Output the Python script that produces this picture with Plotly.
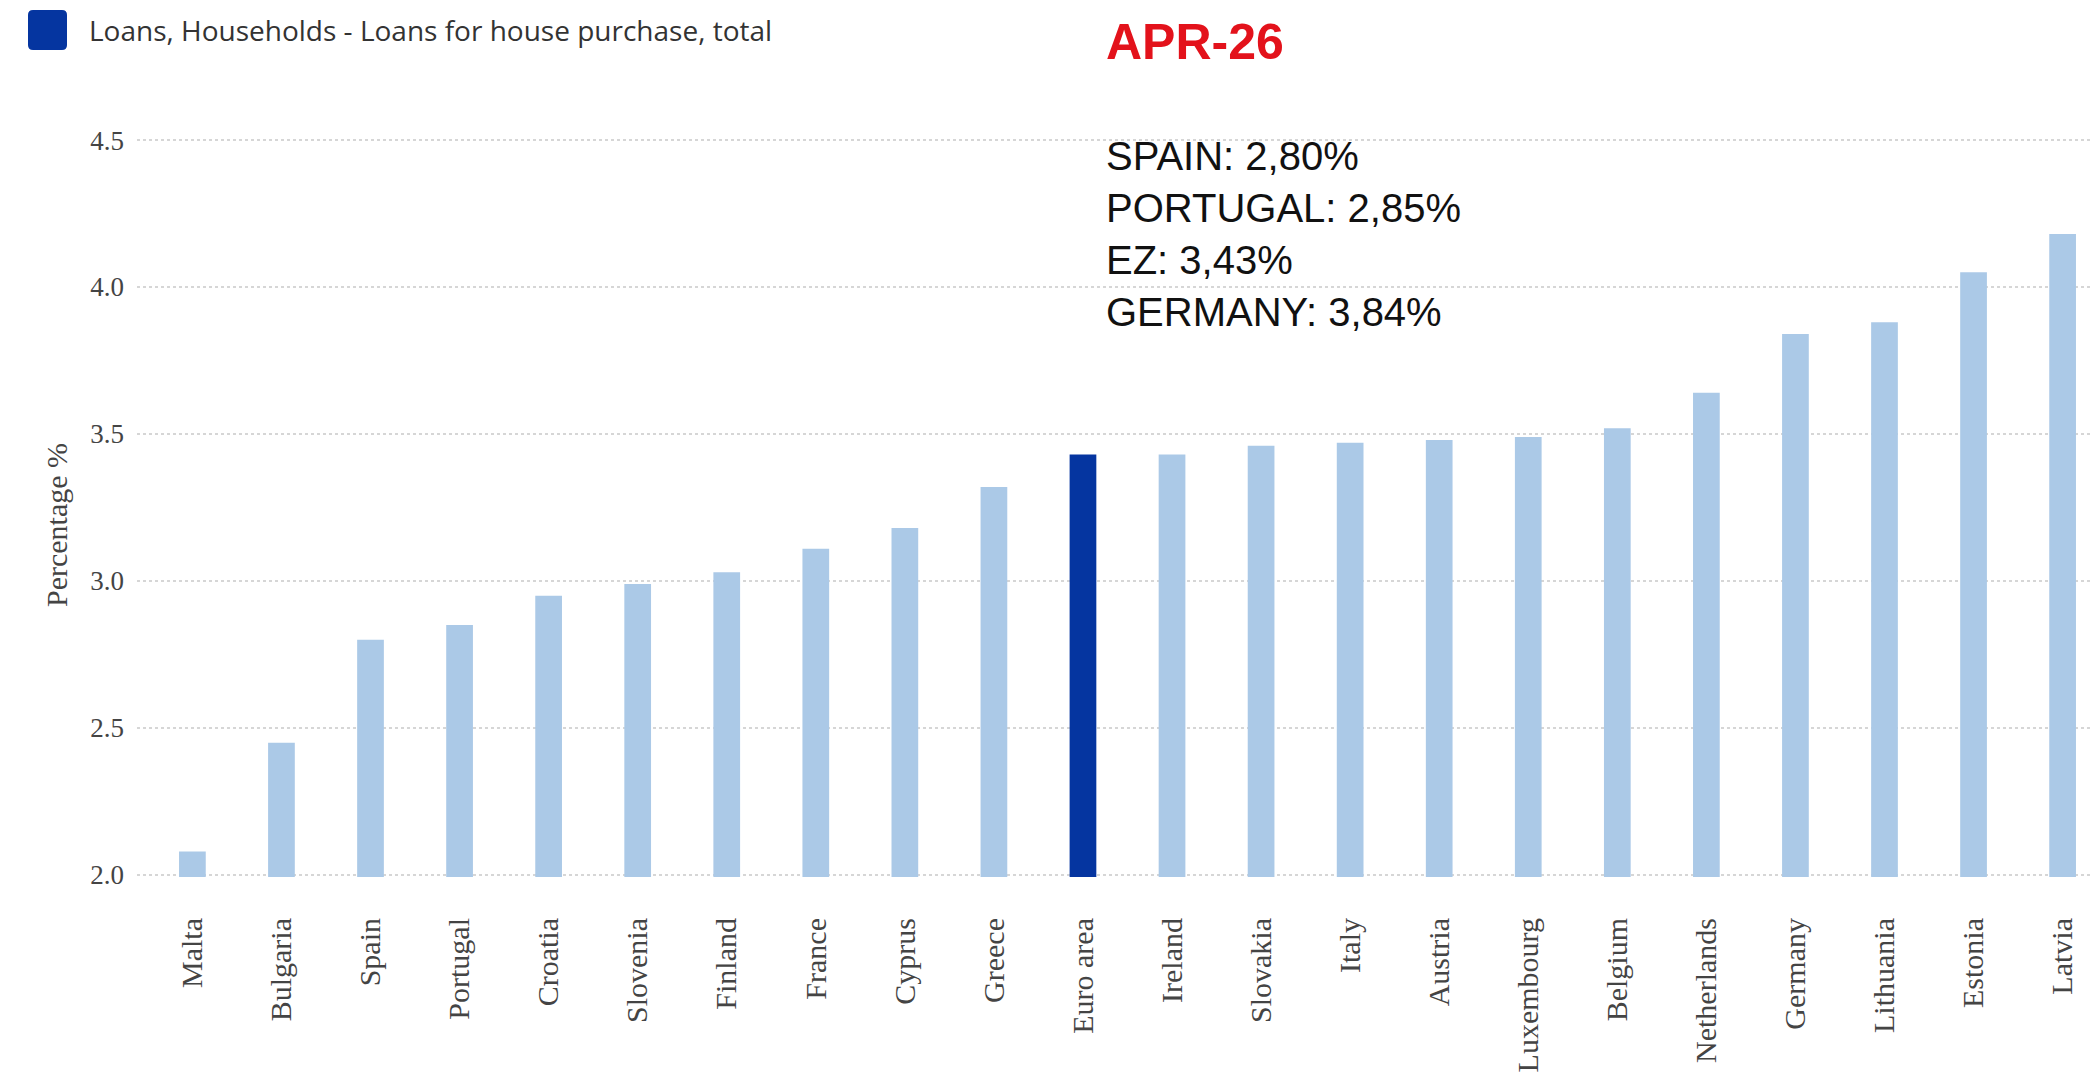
import plotly.graph_objects as go

# Interest rates on new loans to households for house purchase, by country
countries = ["Malta", "Bulgaria", "Spain", "Portugal", "Croatia", "Slovenia",
             "Finland", "France", "Cyprus", "Greece", "Euro area", "Ireland",
             "Slovakia", "Italy", "Austria", "Luxembourg", "Belgium",
             "Netherlands", "Germany", "Lithuania", "Estonia", "Latvia"]
rates = [2.08, 2.45, 2.80, 2.85, 2.95, 2.99, 3.03, 3.11, 3.18, 3.32, 3.43, 3.43,
         3.46, 3.47, 3.48, 3.49, 3.52, 3.64, 3.84, 3.88, 4.05, 4.18]
highlight = "Euro area"

series_name = "Loans, Households - Loans for house purchase, total"
period_label = "APR-26"
callout_lines = ["SPAIN: 2,80%", "PORTUGAL: 2,85%", "EZ: 3,43%", "GERMANY: 3,84%"]
y_ticks = [2.0, 2.5, 3.0, 3.5, 4.0, 4.5]

LIGHT = "#abc9e7"
DARK = "#0535a0"
W, H = 2092, 1092
ML, MR, MT, MB = 137, 0, 138, 215

colors = [DARK if c == highlight else LIGHT for c in countries]

fig = go.Figure(go.Bar(
    x=countries, y=rates, marker=dict(color=colors, line=dict(width=0)),
    width=0.30, showlegend=False,
))

fig.update_layout(
    width=W, height=H,
    margin=dict(l=ML, r=MR, t=MT, b=MB, pad=0),
    paper_bgcolor="white", plot_bgcolor="white",
    font=dict(family="Liberation Serif", color="#444444"),
)

fig.update_xaxes(
    type="category", range=[-0.622, 21.33],
    tickangle=-90, tickfont=dict(family="Liberation Serif", size=30, color="#444444"),
    ticklabelstandoff=34, showgrid=False, zeroline=False, showline=False, ticks="",
)
# small padding so the 2.0 and 4.5 grid lines are drawn inside the plot area
fig.update_yaxes(
    range=[1.993, 4.507], tickvals=y_ticks, ticktext=[f"{v:.1f}" for v in y_ticks],
    tickfont=dict(family="Liberation Serif", size=27, color="#444444"),
    ticklabelstandoff=12,
    showgrid=True, gridcolor="#d6d6d6", gridwidth=2, griddash="dot",
    zeroline=False, showline=False, ticks="",
)

def py(p):
    """Convert a pixel row to paper y."""
    return (H - MB - p) / (H - MT - MB)

def px(p):
    return (p - ML) / (W - ML - MR)

# Legend swatch and label
fig.add_shape(
    type="path", xref="paper", yref="paper",
    path=(f"M {px(33)},{py(10)} L {px(62)},{py(10)} Q {px(67)},{py(10)} {px(67)},{py(15)} "
          f"L {px(67)},{py(45)} Q {px(67)},{py(50)} {px(62)},{py(50)} L {px(33)},{py(50)} "
          f"Q {px(28)},{py(50)} {px(28)},{py(45)} L {px(28)},{py(15)} Q {px(28)},{py(10)} {px(33)},{py(10)} Z"),
    fillcolor=DARK, line=dict(width=0),
)
fig.add_annotation(
    xref="paper", yref="paper", x=px(87), y=py(30), xanchor="left", yanchor="middle",
    text=series_name, showarrow=False,
    font=dict(family="Open Sans", size=28, color="#333333"),
)

# Period header and callout values
fig.add_annotation(
    xref="paper", yref="paper", x=px(1104), y=py(42), xanchor="left", yanchor="middle",
    text=f"<b>{period_label}</b>", showarrow=False,
    font=dict(family="Liberation Sans", size=50, color="#e3121b"),
)
fig.add_annotation(
    xref="paper", yref="paper", x=px(1104), y=py(234), xanchor="left", yanchor="middle",
    text="<br>".join(callout_lines), showarrow=False, align="left",
    font=dict(family="Liberation Sans", size=40, color="#111111"),
)

# Vertical axis title
fig.add_annotation(
    xref="paper", yref="paper", x=px(56), y=py(525), xanchor="center", yanchor="middle",
    text="Percentage %", textangle=-90, showarrow=False,
    font=dict(family="Liberation Serif", size=30, color="#444444"),
)

fig.write_html("out.html")
